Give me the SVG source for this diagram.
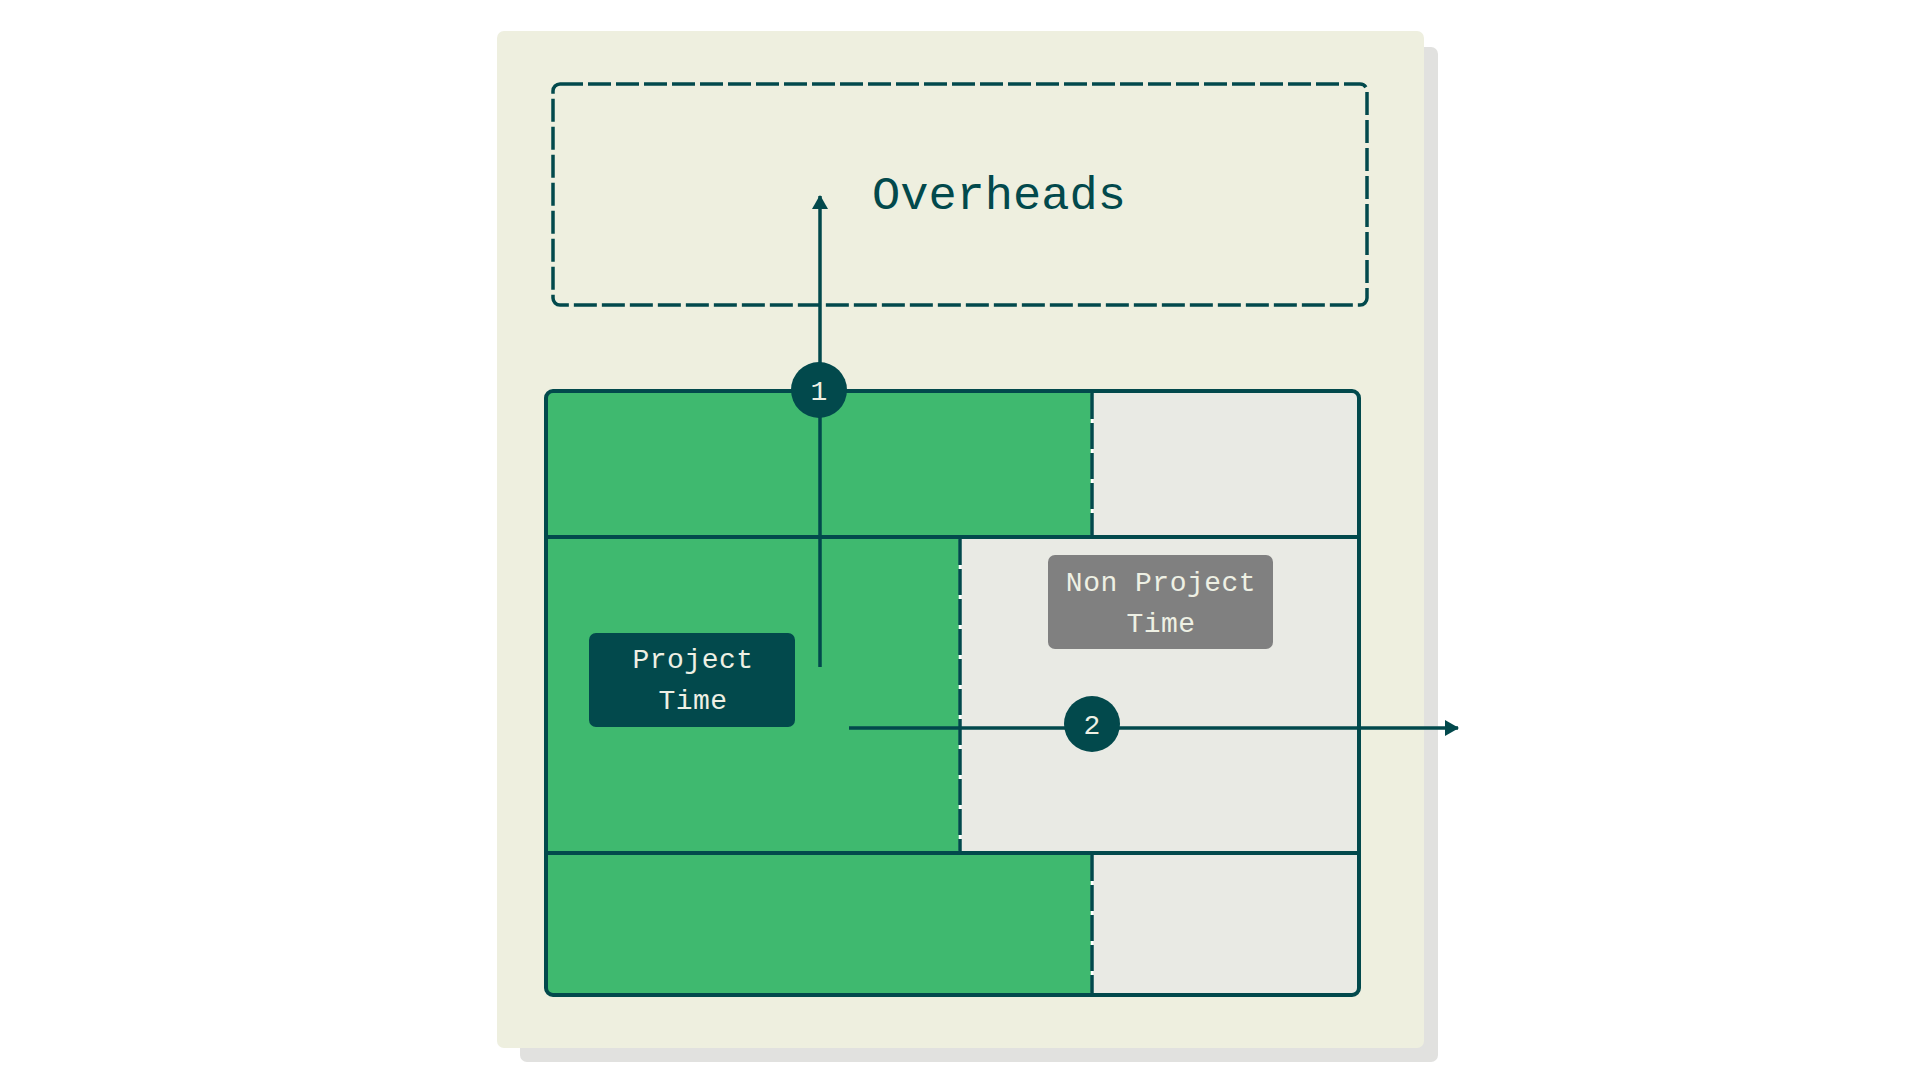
<svg xmlns="http://www.w3.org/2000/svg" width="1920" height="1080" viewBox="0 0 1920 1080">
  <style>
    .teal { fill: #02494c; }
    .line { stroke: #02494c; stroke-width: 4; fill: none; }
    .conn { stroke: #02494c; stroke-width: 3.5; fill: none; }
    .dashv { stroke: #02494c; stroke-width: 3.5; stroke-dasharray: 26 4; }
    .dashbg { stroke: #ffffff; stroke-width: 2.5; }
    .mono { font-family: "Liberation Mono", "DejaVu Sans Mono", monospace; }
    .lbl { font-size: 28px; fill: #eef0e4; text-anchor: middle; letter-spacing: 0.5px; }
    .num { font-size: 28px; fill: #eef0e4; text-anchor: middle; }
    .green { fill: #3fb96f; }
    .grey { fill: #e9eae4; }
  </style>
  <defs>
    <marker id="arrow" viewBox="0 0 14 16" refX="13" refY="8" markerWidth="14" markerHeight="16" markerUnits="userSpaceOnUse" orient="auto">
      <path d="M0,0 L14,8 L0,16 Z" fill="#02494c"/>
    </marker>
  </defs>

  <rect width="1920" height="1080" fill="#ffffff"/>

  <g id="panel">
    <rect x="520" y="47" width="918" height="1015" rx="7" fill="#e1e1df"/>
    <rect x="497" y="31" width="927" height="1017" rx="7" fill="#eeefdf"/>
  </g>

  <g id="overheads">
    <rect x="553" y="84" width="814" height="221" rx="7" fill="none" stroke="#02494c" stroke-width="3.5" stroke-dasharray="23 5"/>
    <text class="mono" x="872" y="209" font-size="47" fill="#02494c">Overheads</text>
  </g>

  <g id="grid">
    <rect class="grey" x="546" y="391" width="813" height="146" rx="6"/>
    <rect class="green" x="546" y="391" width="546" height="146" rx="6"/>
    <rect class="grey" x="546" y="537" width="813" height="316"/>
    <rect class="green" x="546" y="537" width="414" height="316" rx="6"/>
    <rect class="grey" x="546" y="853" width="813" height="142" rx="6"/>
    <rect class="green" x="546" y="853" width="546" height="142" rx="6"/>
    <line class="dashbg" x1="1092" y1="393" x2="1092" y2="535"/>
    <line class="dashv" x1="1092" y1="393" x2="1092" y2="535"/>
    <line class="dashbg" x1="960" y1="539" x2="960" y2="851"/>
    <line class="dashv" x1="960" y1="539" x2="960" y2="851"/>
    <line class="dashbg" x1="1092" y1="855" x2="1092" y2="993"/>
    <line class="dashv" x1="1092" y1="855" x2="1092" y2="993"/>
    <line class="line" x1="544" y1="537" x2="1361" y2="537"/>
    <line class="line" x1="544" y1="853" x2="1361" y2="853"/>
    <rect class="line" x="546" y="391" width="813" height="604" rx="7"/>
  </g>

  <g id="project-time">
    <rect x="589" y="633" width="206" height="94" rx="7" class="teal"/>
    <text class="mono lbl" x="693" y="668">Project</text>
    <text class="mono lbl" x="693" y="709">Time</text>
  </g>

  <g id="non-project-time">
    <rect x="1048" y="555" width="225" height="94" rx="7" fill="#808080"/>
    <text class="mono lbl" x="1161" y="591">Non Project</text>
    <text class="mono lbl" x="1161" y="632">Time</text>
  </g>

  <g id="connectors">
    <line class="conn" x1="820" y1="667" x2="820" y2="196" marker-end="url(#arrow)"/>
    <line class="conn" x1="849" y1="728" x2="1458" y2="728" marker-end="url(#arrow)"/>
  </g>

  <g id="badge-1">
    <circle cx="819" cy="390" r="28" class="teal"/>
    <text class="mono num" x="819" y="400">1</text>
  </g>
  <g id="badge-2">
    <circle cx="1092" cy="724" r="28" class="teal"/>
    <text class="mono num" x="1092" y="734">2</text>
  </g>
</svg>
